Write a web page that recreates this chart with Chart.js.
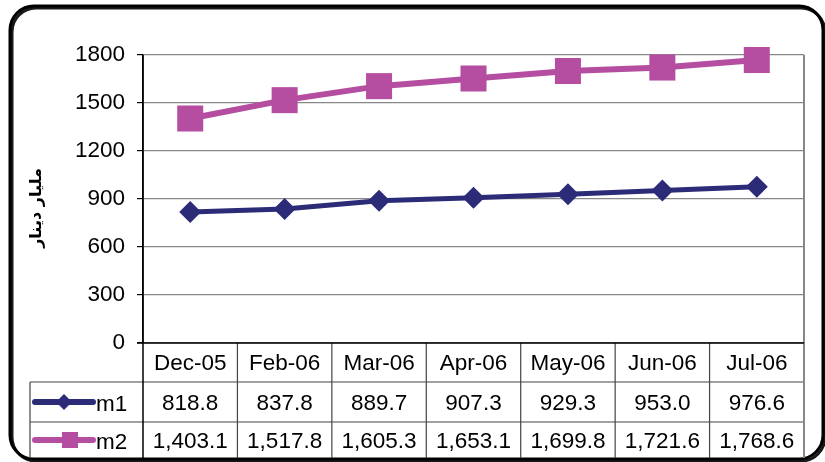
<!DOCTYPE html>
<html>
<head>
<meta charset="utf-8">
<script src="https://cdn.jsdelivr.net/npm/chart.js@4/dist/chart.umd.min.js"></script>
<style>
    body { margin: 0; background: #fff; }
    canvas { display: block; }
</style>
</head>
<body>
<canvas id="chart" width="825" height="462"></canvas>
<script>
const categories = ['Dec-05', 'Feb-06', 'Mar-06', 'Apr-06', 'May-06', 'Jun-06', 'Jul-06'];
const m1 = [818.8, 837.8, 889.7, 907.3, 929.3, 953.0, 976.6];
const m2 = [1403.1, 1517.8, 1605.3, 1653.1, 1699.8, 1721.6, 1768.6];
const yTicks = [0, 300, 600, 900, 1200, 1500, 1800];
const seriesNames = ['m1', 'm2'];
const yTitle = 'مليار دينار';

const navy = '#2B2B78';
const magenta = '#B54EA0';
const font = '22.5px "Liberation Sans", Arial, sans-serif';

const fmt = (v) => v.toLocaleString('en-US', { minimumFractionDigits: 1, maximumFractionDigits: 1 });

// outer rounded frame + white background
const framePlugin = {
    id: 'frame',
    beforeDraw(chart) {
        const ctx = chart.ctx;
        ctx.save();
        ctx.fillStyle = '#fff';
        ctx.fillRect(0, 0, chart.width, chart.height);
        const x0 = 10, y0 = 6, x1 = 823, y1 = 459, r = 24;
        ctx.beginPath();
        ctx.moveTo(x0 + r, y0);
        ctx.lineTo(x1 - r, y0);
        ctx.arcTo(x1, y0, x1, y0 + r, r);
        ctx.lineTo(x1, y1 - r);
        ctx.arcTo(x1, y1, x1 - r, y1, r);
        ctx.lineTo(x0 + r, y1);
        ctx.arcTo(x0, y1, x0, y1 - r, r);
        ctx.lineTo(x0, y0 + r);
        ctx.arcTo(x0, y0, x0 + r, y0, r);
        ctx.closePath();
        ctx.strokeStyle = '#000';
        ctx.lineWidth = 3;
        ctx.shadowColor = 'rgba(0,0,0,0.9)';
        ctx.shadowOffsetX = 2;
        ctx.shadowOffsetY = 2;
        ctx.stroke();
        ctx.restore();
    }
};

// data table under the plot, with legend keys
const tablePlugin = {
    id: 'dataTable',
    afterDraw(chart) {
        const { ctx, chartArea, scales } = chart;
        const x = scales.x;
        const left = chartArea.left, right = chartArea.right;
        const colW = (right - left) / categories.length;
        const rows = [chartArea.bottom, 382, 422, 458];
        const keyLeft = 30;

        ctx.save();
        ctx.strokeStyle = '#444';
        ctx.lineWidth = 1.2;
        ctx.beginPath();
        ctx.moveTo(keyLeft, rows[1]); ctx.lineTo(right, rows[1]);
        ctx.moveTo(keyLeft, rows[2]); ctx.lineTo(right, rows[2]);
        ctx.moveTo(keyLeft, rows[1]); ctx.lineTo(keyLeft, rows[3]);
        for (let i = 1; i < categories.length; i++) {
            const cx = left + colW * i;
            ctx.moveTo(cx, rows[0]); ctx.lineTo(cx, rows[3]);
        }
        ctx.stroke();

        // plot right border
        ctx.strokeStyle = '#888';
        ctx.lineWidth = 2;
        ctx.beginPath();
        ctx.moveTo(right, chartArea.top); ctx.lineTo(right, rows[3]);
        ctx.stroke();

        // axis lines
        ctx.strokeStyle = '#000';
        ctx.lineWidth = 1.5;
        ctx.beginPath();
        ctx.moveTo(left, chartArea.top); ctx.lineTo(left, rows[3]);
        ctx.moveTo(left - 6, chartArea.bottom); ctx.lineTo(right, chartArea.bottom);
        ctx.stroke();

        ctx.fillStyle = '#000';
        ctx.font = font;
        ctx.textAlign = 'center';
        ctx.textBaseline = 'middle';
        categories.forEach((c, i) => {
            const cx = x.getPixelForValue(i);
            ctx.fillText(c, cx, (rows[0] + rows[1]) / 2 + 1);
            ctx.fillText(fmt(m1[i]), cx, (rows[1] + rows[2]) / 2 + 2);
            ctx.fillText(fmt(m2[i]), cx, (rows[2] + rows[3]) / 2 + 2);
        });

        // legend keys
        const keys = [
            { color: navy, y: (rows[1] + rows[2]) / 2, shape: 'diamond' },
            { color: magenta, y: (rows[2] + rows[3]) / 2, shape: 'square' }
        ];
        keys.forEach((k, i) => {
            ctx.strokeStyle = k.color;
            ctx.fillStyle = k.color;
            ctx.lineWidth = 6;
            ctx.lineCap = 'round';
            ctx.beginPath();
            ctx.moveTo(35, k.y); ctx.lineTo(93, k.y);
            ctx.stroke();
            ctx.beginPath();
            if (k.shape === 'diamond') {
                ctx.moveTo(64, k.y - 8); ctx.lineTo(72, k.y);
                ctx.lineTo(64, k.y + 8); ctx.lineTo(56, k.y);
                ctx.closePath();
            } else {
                ctx.rect(62, k.y - 8, 16, 16);
            }
            ctx.fill();
            ctx.fillStyle = '#000';
            ctx.textAlign = 'left';
            ctx.fillText(seriesNames[i], 96, k.y + 3);
        });

        // y axis title
        ctx.translate(37, 208);
        ctx.rotate(-Math.PI / 2);
        ctx.font = 'bold 16px "DejaVu Sans", sans-serif';
        ctx.textAlign = 'center';
        ctx.fillStyle = '#000';
        ctx.fillText(yTitle, 0, 0);
        ctx.restore();
    }
};

new Chart(document.getElementById('chart'), {
    type: 'line',
    data: {
        labels: categories,
        datasets: [
            {
                label: seriesNames[0],
                data: m1,
                borderColor: navy,
                backgroundColor: navy,
                borderWidth: 5,
                pointStyle: 'rectRot',
                pointRadius: 11,
                pointBorderWidth: 0,
                tension: 0,
                clip: false
            },
            {
                label: seriesNames[1],
                data: m2,
                borderColor: magenta,
                backgroundColor: magenta,
                borderWidth: 6,
                pointStyle: 'rect',
                pointRadius: 18.4,
                pointBorderWidth: 0,
                tension: 0,
                clip: false
            }
        ]
    },
    options: {
        responsive: false,
        animation: false,
        events: [],
        layout: { padding: { left: 0, top: 55, right: 21, bottom: 119 } },
        plugins: {
            legend: { display: false },
            tooltip: { enabled: false }
        },
        scales: {
            x: {
                display: false,
                offset: true
            },
            y: {
                min: 0,
                max: 1800,
                afterFit: (scale) => { scale.width = 143; },
                afterBuildTicks: (scale) => { scale.ticks = yTicks.map(v => ({ value: v })); },
                ticks: {
                    color: '#000',
                    font: { family: '"Liberation Sans", Arial, sans-serif', size: 22.5 },
                    padding: 12,
                    callback: (v) => String(v)
                },
                grid: {
                    color: '#888',
                    lineWidth: 1.2,
                    tickLength: 6,
                    tickColor: '#000'
                },
                border: { color: '#000', width: 1.5 }
            }
        }
    },
    plugins: [framePlugin, tablePlugin]
});
</script>
</body>
</html>
